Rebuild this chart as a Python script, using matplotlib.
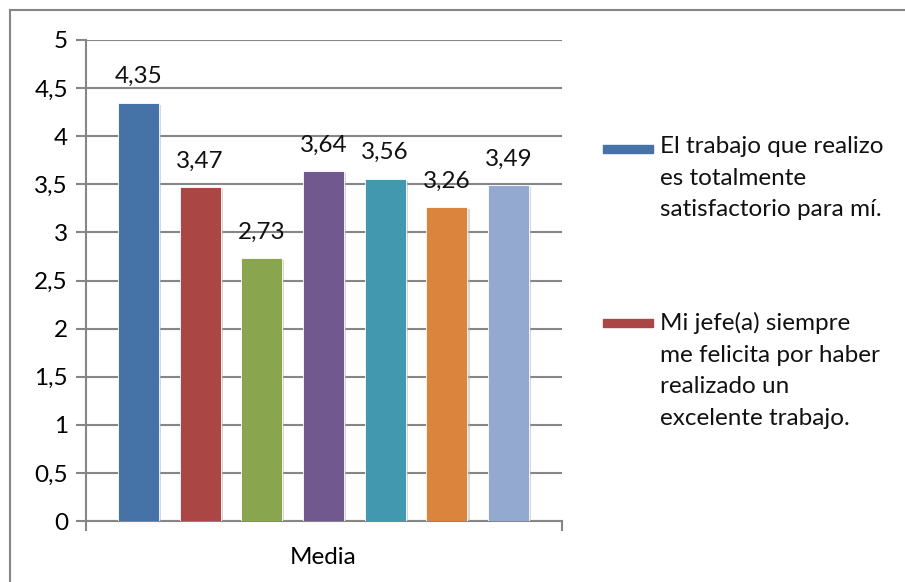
import numpy as np
import matplotlib.pyplot as plt
from matplotlib.lines import Line2D
from matplotlib.patches import Rectangle
import matplotlib.patheffects as pe

# Medias por ítem
valores = [4.35, 3.47, 2.73, 3.64, 3.56, 3.26, 3.49]
colores = ['#4572A7', '#AA4643', '#89A54E', '#71588F', '#4198AF', '#DB843D', '#93A9CF']
leyenda = ['El trabajo que realizo\nes totalmente\nsatisfactorio para mí.',
           'Mi jefe(a) siempre\nme felicita por haber\nrealizado un\nexcelente trabajo.']
categoria = 'Media'
yticks = [0, 0.5, 1, 1.5, 2, 2.5, 3, 3.5, 4, 4.5, 5]

plt.rcParams['font.family'] = ['Lato', 'DejaVu Sans']
FS = 17.5
W, H = 905, 582
fig = plt.figure(figsize=(W / 100, H / 100), dpi=100)

def px(xp, yp):
    return xp / W, 1 - yp / H

# area de trazado en pixeles
left, right, bottom, top = 86, 562, 521, 40
ax = fig.add_axes([left / W, 1 - bottom / H, (right - left) / W, (bottom - top) / H])

gris = '#868686'
x = np.arange(len(valores)) - 3
bars = ax.bar(x, valores, width=0.665, color=colores, zorder=3,
              edgecolor='white', linewidth=0.6)
for b in bars:
    b.set_path_effects([pe.SimplePatchShadow(offset=(1.5, -1.5), shadow_rgbFace='#b0b0b0', alpha=0.5),
                        pe.Normal()])

for xi, v in zip(x, valores):
    ax.annotate(f'{v:.2f}'.replace('.', ','), (xi, v), xytext=(0, 14),
                textcoords='offset points', ha='center', va='baseline',
                fontsize=FS, color='#111111')

ax.set_xlim(-3.85, 3.865)
ax.set_ylim(0, 5)
ax.set_yticks(yticks)
ax.set_yticklabels([f'{t:g}'.replace('.', ',') for t in yticks], fontsize=FS)
ax.yaxis.grid(True, color=gris, linewidth=1.5, zorder=0)
ax.set_axisbelow(True)

ax.set_xticks([0])
ax.set_xticklabels([categoria], fontsize=FS)
ax.tick_params(axis='x', length=0, pad=19)
ax.set_xticks([-3.85, 3.865], minor=True)
ax.tick_params(axis='x', which='minor', length=7, width=1.5, color=gris, direction='out')
ax.tick_params(axis='y', length=7, width=1.5, color=gris, direction='out', pad=6)

for s in ['top', 'right']:
    ax.spines[s].set_visible(False)
for s in ['left', 'bottom']:
    ax.spines[s].set_color(gris)
    ax.spines[s].set_linewidth(1.5)

# leyenda (solo las dos primeras series), handle alineado con la primera linea
for (ytop, ypatch), texto, c in zip([(136, 145), (312, 319)], leyenda, colores[:2]):
    x0, y0 = px(603, ypatch + 8)
    fig.add_artist(Rectangle((x0, y0), 50 / W, 8 / H, color=c, transform=fig.transFigure))
    fig.text(*px(660, ytop), texto, fontsize=FS, va='top', ha='left',
             linespacing=1.62, color='#111111')

# marco exterior (solo borde superior e izquierdo visibles)
fig.add_artist(Line2D([10 / W, 1], [1 - 10 / H, 1 - 10 / H], color=gris, linewidth=1.5))
fig.add_artist(Line2D([10 / W, 10 / W], [0, 1 - 10 / H], color=gris, linewidth=1.5))

fig.savefig('out.png', dpi=100)
